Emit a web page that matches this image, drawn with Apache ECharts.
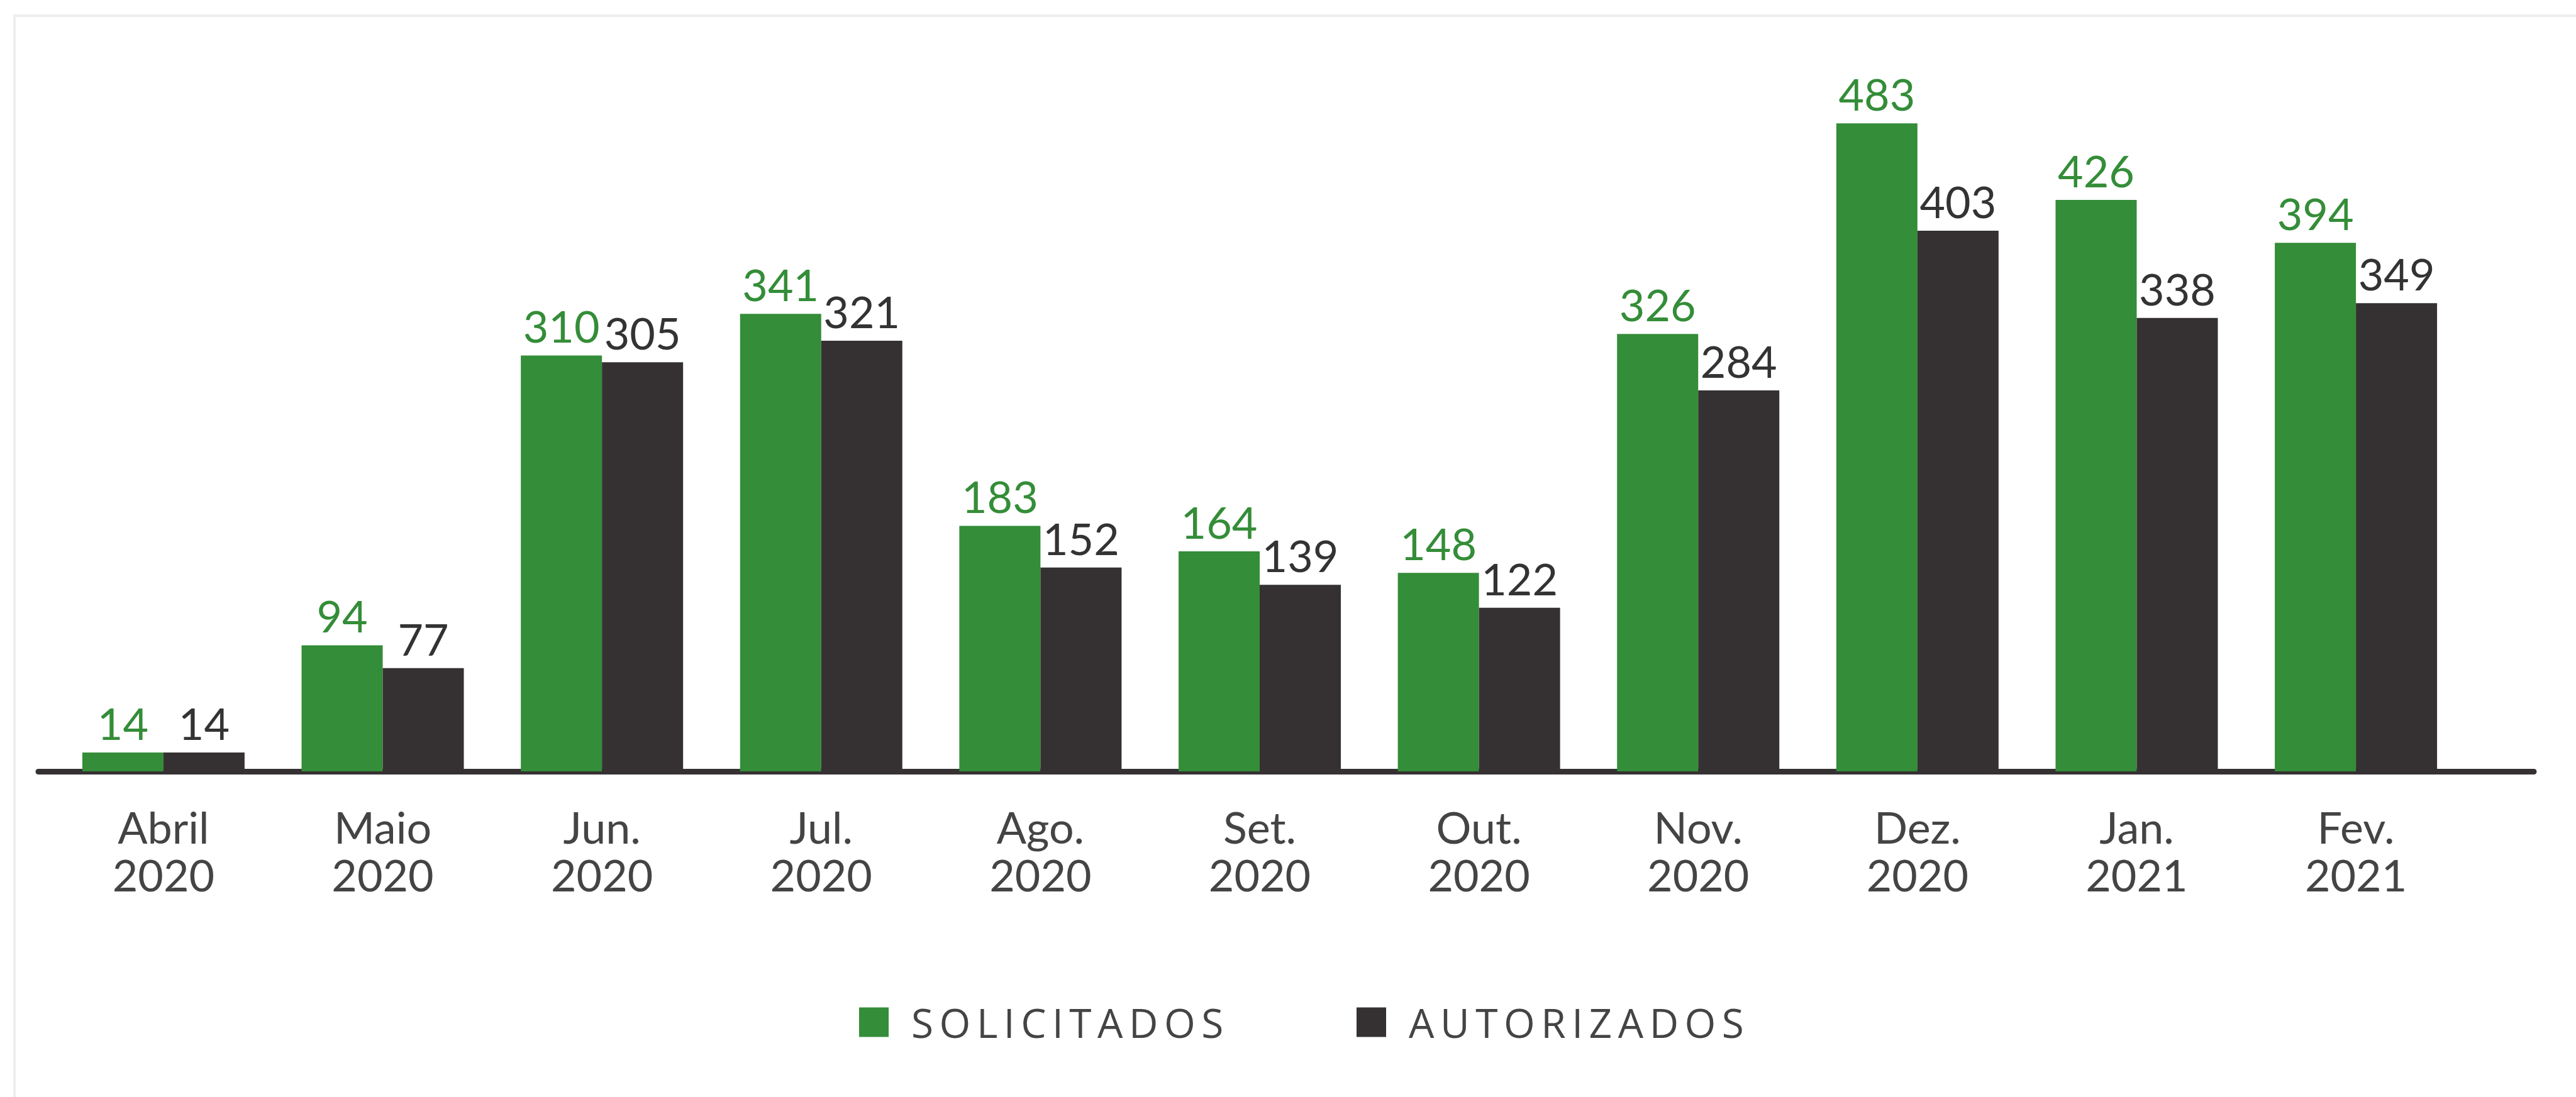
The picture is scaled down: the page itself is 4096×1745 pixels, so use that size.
<!DOCTYPE html>
<html>
<head>
<meta charset="utf-8">
<script src="https://cdn.jsdelivr.net/npm/echarts@6/dist/echarts.min.js"></script>
<style>
  html, body { margin: 0; padding: 0; width: 100%; height: 100%; background: #fff; overflow: hidden; }
  /* moldura clara só em cima e à esquerda, como no original */
  .frame { position: absolute; left: 21px; top: 23px; right: 0; bottom: 0; border-top: 4px solid #eeeeee; border-left: 4px solid #eeeeee; }
  #chart { position: absolute; left: 0; top: 0; width: 4096px; height: 1745px; }
  /* legenda com letras espaçadas */
  #chart text[style*="64px"] { letter-spacing: 9.5px; }
</style>
</head>
<body>
<div class="frame"></div>
<div id="chart"></div>
<script>
const categories = ['Abril\n2020', 'Maio\n2020', 'Jun.\n2020', 'Jul.\n2020', 'Ago.\n2020', 'Set.\n2020',
  'Out.\n2020', 'Nov.\n2020', 'Dez.\n2020', 'Jan.\n2021', 'Fev.\n2021'];
const solicitados = [14, 94, 310, 341, 183, 164, 148, 326, 483, 426, 394];
const autorizados = [14, 77, 305, 321, 152, 139, 122, 284, 403, 338, 349];
const legendNames = ['SOLICITADOS', 'AUTORIZADOS'];

const green = '#348d38';
const dark = '#353132';

let myChart = echarts.init(document.getElementById('chart'), null, { renderer: 'svg' });

let option = {
  backgroundColor: 'transparent',
  animation: false,
  grid: [
    { left: 85.6, right: 175.6, top: 160, bottom: 518 }, // barras
    { left: 61, right: 67, top: 160, bottom: 518 } // só a linha do eixo, mais comprida
  ],
  legend: [
    {
      data: [legendNames[0]],
      left: 1361, top: 1589,
      icon: 'rect', itemWidth: 47, itemHeight: 47,
      textStyle: { fontSize: 64, color: '#444444', fontFamily: 'Open Sans', padding: [0, 0, 0, 31] }
    },
    {
      data: [legendNames[1]],
      left: 2152, top: 1589,
      icon: 'rect', itemWidth: 47, itemHeight: 47,
      textStyle: { fontSize: 64, color: '#444444', fontFamily: 'Open Sans', padding: [0, 0, 0, 31] }
    }
  ],
  xAxis: [
    {
      type: 'category',
      gridIndex: 0,
      data: categories,
      axisLine: { show: false },
      axisTick: { show: false },
      axisLabel: {
        interval: 0,
        margin: 50,
        color: '#444444',
        fontSize: 70,
        lineHeight: 76,
        fontFamily: 'Lato'
      }
    },
    {
      type: 'value',
      gridIndex: 1,
      min: 0, max: 1,
      position: 'bottom',
      axisLine: { show: true, onZero: false, lineStyle: { color: dark, width: 9 } },
      axisTick: { show: false },
      axisLabel: { show: false },
      splitLine: { show: false }
    }
  ],
  yAxis: [
    { type: 'value', gridIndex: 0, min: 0, max: 500, show: false },
    { type: 'value', gridIndex: 1, min: 0, max: 1, show: false }
  ],
  series: [
    {
      name: legendNames[0],
      type: 'bar',
      data: solicitados,
      barWidth: 129,
      barGap: '0%',
      itemStyle: { color: green },
      label: { show: true, position: 'top', distance: 12, color: green, fontSize: 70, fontFamily: 'Lato' }
    },
    {
      name: legendNames[1],
      type: 'bar',
      data: autorizados,
      barWidth: 129,
      barGap: '0%',
      itemStyle: { color: dark },
      label: { show: true, position: 'top', distance: 12, color: '#333333', fontSize: 70, fontFamily: 'Lato' }
    }
  ]
};

myChart.setOption(option);
</script>
</body>
</html>
